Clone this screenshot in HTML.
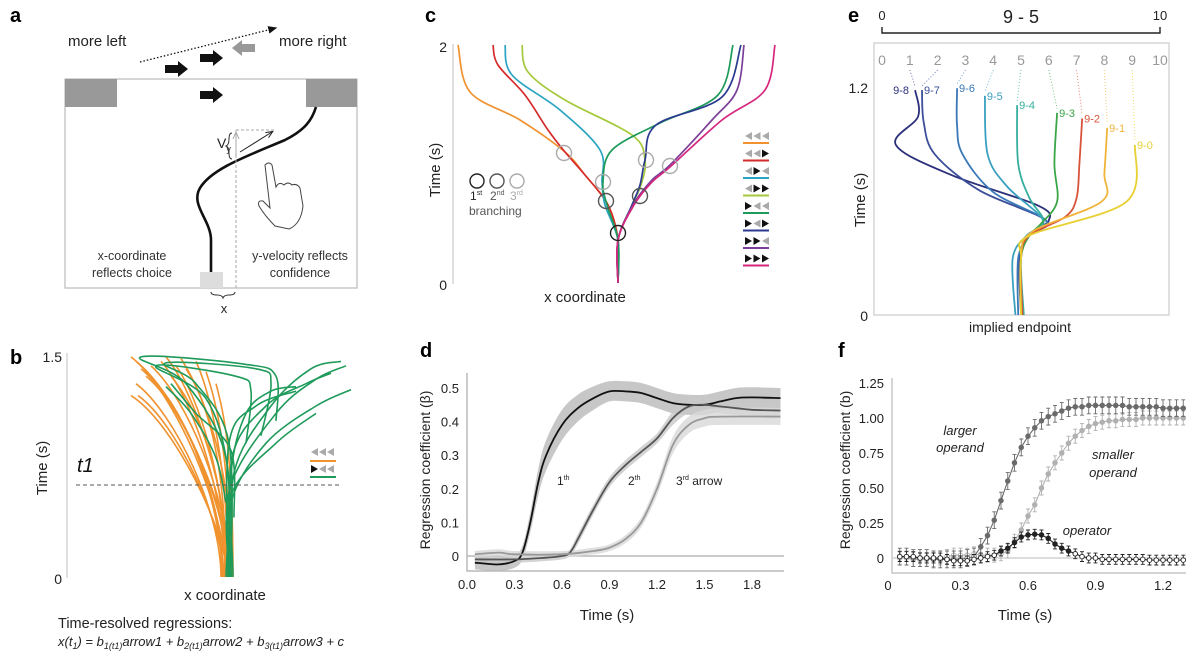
<!DOCTYPE html>
<html><head><meta charset="utf-8"><style>
html,body{margin:0;padding:0;background:#fff}
svg{display:block;font-family:"Liberation Sans","DejaVu Sans",sans-serif}
</style></head><body>
<svg id="fig" width="1200" height="657" viewBox="0 0 1200 657" xmlns="http://www.w3.org/2000/svg">
<defs>
<marker id="ah" markerWidth="8" markerHeight="8" refX="6" refY="4" orient="auto"><path d="M0,1 L7,4 L0,7 z" fill="#111"/></marker>
<marker id="ah2" markerWidth="8" markerHeight="8" refX="6" refY="4" orient="auto"><path d="M0,1 L7,4 L0,7" fill="none" stroke="#222" stroke-width="1"/></marker>
<marker id="ah3" markerWidth="8" markerHeight="8" refX="6" refY="4" orient="auto"><path d="M0,1 L7,4 L0,7" fill="none" stroke="#aaa" stroke-width="1"/></marker>
</defs>

<!-- PANEL A -->
<g>
<text x="10" y="22" font-size="20" font-weight="bold">a</text>
<text x="68" y="46" font-size="15" fill="#222">more left</text>
<text x="279" y="46" font-size="15" fill="#222">more right</text>
<line x1="140" y1="62" x2="276" y2="28" stroke="#111" stroke-width="1.3" stroke-dasharray="1.5,2" marker-end="url(#ah)"/>
<path d="M165,65 h13 v-4 l10,8 l-10,8 v-4 h-13z" fill="#111"/>
<path d="M200,54 h13 v-4 l10,8 l-10,8 v-4 h-13z" fill="#111"/>
<path d="M255,44 h-13 v-4 l-10,8 l10,8 v-4 h13z" fill="#999"/>
<rect x="65" y="79" width="292" height="209" fill="none" stroke="#bbb" stroke-width="1.2"/>
<rect x="65" y="79" width="52" height="28" fill="#999"/>
<rect x="306" y="79" width="51" height="28" fill="#999"/>
<path d="M200,91 h13 v-4 l10,8 l-10,8 v-4 h-13z" fill="#111"/>
<rect x="200" y="272" width="23" height="16" fill="#ddd"/>
<path d="M211,272 L211,240 C211,220 190,205 200,188 C212,168 250,155 285,140 C305,130 312,120 316,107" fill="none" stroke="#111" stroke-width="2.6"/>
<line x1="236" y1="288" x2="236" y2="130" stroke="#aaa" stroke-dasharray="3,2"/>
<line x1="236" y1="130" x2="276" y2="130" stroke="#aaa" stroke-dasharray="3,2"/>
<line x1="236" y1="155" x2="236" y2="133" stroke="#aaa" marker-end="url(#ah3)"/>
<line x1="240" y1="152" x2="272" y2="132" stroke="#222" marker-end="url(#ah2)"/>
<text x="217" y="148" font-size="14" fill="#222">V<tspan font-size="9" dy="4">y</tspan></text>
<path d="M232,133 q-3,0 -3,6 q0,6 -3,7 q3,1 3,7 q0,6 3,6" fill="none" stroke="#333"/>
<path d="M265,165 q4,-4 7,0 l4,22 q3,-6 8,-2 q4,-4 8,0 q5,-2 8,3 l3,18 q-2,18 -14,23 l-14,-3 q-10,-10 -16,-20 q-2,-6 4,-5 l7,7 z" fill="none" stroke="#444" stroke-width="1"/>
<text x="132" y="260" font-size="12.5" fill="#333" text-anchor="middle">x-coordinate</text>
<text x="132" y="277" font-size="12.5" fill="#333" text-anchor="middle">reflects choice</text>
<text x="300" y="260" font-size="12.5" fill="#333" text-anchor="middle">y-velocity reflects</text>
<text x="300" y="277" font-size="12.5" fill="#333" text-anchor="middle">confidence</text>
<path d="M211,292 q0,3 6,3 q5,0 6,3 q1,-3 6,-3 q6,0 6,-3" fill="none" stroke="#333"/>
<text x="224" y="313" font-size="13" text-anchor="middle" fill="#222">x</text>
</g>

<!-- PANEL B -->
<g id="pb">
<text x="10" y="364" font-size="20" font-weight="bold">b</text>
<line x1="67" y1="353" x2="67" y2="578" stroke="#ccc" stroke-width="1.2"/>
<text x="62" y="362" font-size="14" text-anchor="end" fill="#222">1.5</text>
<text x="62" y="584" font-size="14" text-anchor="end" fill="#222">0</text>
<text transform="translate(47,468) rotate(-90)" font-size="15" text-anchor="middle" fill="#222">Time (s)</text>
<text x="77" y="472" font-size="20" font-style="italic" fill="#111">t1</text>
<text x="225" y="600" font-size="15" text-anchor="middle" fill="#222">x coordinate</text>
<text x="58" y="628" font-size="14.5" fill="#222">Time-resolved regressions:</text>
<text x="58" y="646" font-size="13" font-style="italic" fill="#222">x(t<tspan font-size="9" dy="3">1</tspan><tspan dy="-3">) = b</tspan><tspan font-size="9" dy="3">1(t1)</tspan><tspan dy="-3">arrow1 + b</tspan><tspan font-size="9" dy="3">2(t1)</tspan><tspan dy="-3">arrow2 + b</tspan><tspan font-size="9" dy="3">3(t1)</tspan><tspan dy="-3">arrow3 + c</tspan></text>
<g id="bLines"></g>
<line x1="76" y1="485" x2="340" y2="485" stroke="#555" stroke-dasharray="4,3"/>
<g>
<path d="M318,456 l-7,-4 l7,-4z M326,456 l-7,-4 l7,-4z M334,456 l-7,-4 l7,-4z" fill="#aaa"/>
<line x1="310" y1="461" x2="336" y2="461" stroke="#f0922e" stroke-width="2"/>
<path d="M311,465 l7,4 l-7,4z" fill="#111"/><path d="M326,473 l-7,-4 l7,-4z M334,473 l-7,-4 l7,-4z" fill="#aaa"/>
<line x1="310" y1="477" x2="336" y2="477" stroke="#1e9a5a" stroke-width="2"/>
</g>
</g>

<!-- PANEL C -->
<g>
<text x="425" y="22" font-size="20" font-weight="bold">c</text>
<line x1="453" y1="44" x2="453" y2="284" stroke="#ccc" stroke-width="1.2"/>
<text x="447" y="52" font-size="14" text-anchor="end" fill="#222">2</text>
<text x="447" y="290" font-size="14" text-anchor="end" fill="#222">0</text>
<text transform="translate(440,170) rotate(-90)" font-size="15" text-anchor="middle" fill="#222">Time (s)</text>
<text x="585" y="302" font-size="15" text-anchor="middle" fill="#222">x coordinate</text>
<g id="cLines"></g>
<g fill="none" stroke-width="1.4">
<circle cx="618" cy="233" r="7.5" stroke="#222"/>
<circle cx="606" cy="201" r="7.5" stroke="#555"/><circle cx="640" cy="196" r="7.5" stroke="#555"/>
<circle cx="564" cy="153" r="7.5" stroke="#aaa"/><circle cx="603" cy="182" r="7.5" stroke="#aaa"/><circle cx="646" cy="160" r="7.5" stroke="#aaa"/><circle cx="670" cy="166" r="7.5" stroke="#aaa"/>
</g>
<g>
<circle cx="477" cy="181" r="7" fill="none" stroke="#222" stroke-width="1.4"/>
<circle cx="497" cy="181" r="7" fill="none" stroke="#555" stroke-width="1.4"/>
<circle cx="517" cy="181" r="7" fill="none" stroke="#aaa" stroke-width="1.4"/>
<text x="470" y="200" font-size="12" fill="#222">1<tspan font-size="7" dy="-5">st</tspan></text>
<text x="490" y="200" font-size="12" fill="#555">2<tspan font-size="7" dy="-5">nd</tspan></text>
<text x="510" y="200" font-size="12" fill="#aaa">3<tspan font-size="7" dy="-5">rd</tspan></text>
<text x="469" y="215" font-size="12" fill="#555">branching</text>
</g>
<g id="cLegend"></g>
</g>

<!-- PANEL E -->
<g>
<text x="848" y="22" font-size="20" font-weight="bold">e</text>
<text x="882" y="20" font-size="13" text-anchor="middle" fill="#222">0</text>
<text x="1160" y="20" font-size="13" text-anchor="middle" fill="#222">10</text>
<text x="1021" y="23" font-size="18" text-anchor="middle" fill="#222">9 - 5</text>
<path d="M882,27 V33 H1160 V27" fill="none" stroke="#222" stroke-width="1.4"/>
<rect x="874" y="43" width="295" height="272" fill="none" stroke="#ccc" stroke-width="1.2"/>
<g id="eTicks"></g>
<text x="868" y="93" font-size="14" text-anchor="end" fill="#222">1.2</text>
<text x="868" y="321" font-size="14" text-anchor="end" fill="#222">0</text>
<text transform="translate(865,200) rotate(-90)" font-size="15" text-anchor="middle" fill="#222">Time (s)</text>
<text x="1020" y="332" font-size="14" text-anchor="middle" fill="#222">implied endpoint</text>
<g id="eLines"></g>
</g>

<!-- PANEL D -->
<g>
<text x="420" y="357" font-size="20" font-weight="bold">d</text>
<g id="dChart"></g>
<text transform="translate(430,470) rotate(-90)" font-size="14" text-anchor="middle" fill="#222">Regression coefficient (β)</text>
<text x="607" y="620" font-size="15" text-anchor="middle" fill="#222">Time (s)</text>
<text x="557" y="485" font-size="12" fill="#222">1<tspan font-size="7" dy="-5">th</tspan></text>
<text x="628" y="485" font-size="12" fill="#222">2<tspan font-size="7" dy="-5">th</tspan></text>
<text x="676" y="485" font-size="12" fill="#222">3<tspan font-size="7" dy="-5">rd</tspan><tspan dy="5"> arrow</tspan></text>
</g>

<!-- PANEL F -->
<g>
<text x="838" y="357" font-size="20" font-weight="bold">f</text>
<g id="fChart"></g>
<text transform="translate(850,470) rotate(-90)" font-size="14" text-anchor="middle" fill="#222">Regression coefficient (b)</text>
<text x="1025" y="620" font-size="15" text-anchor="middle" fill="#222">Time (s)</text>
<text x="960" y="435" font-size="13" font-style="italic" fill="#222" text-anchor="middle">larger</text>
<text x="960" y="452" font-size="13" font-style="italic" fill="#222" text-anchor="middle">operand</text>
<text x="1113" y="459" font-size="13" font-style="italic" fill="#222" text-anchor="middle">smaller</text>
<text x="1113" y="477" font-size="13" font-style="italic" fill="#222" text-anchor="middle">operand</text>
<text x="1087" y="535" font-size="13" font-style="italic" fill="#222" text-anchor="middle">operator</text>
</g>
</svg>

<script>
// ---------- Panel d data ----------
const dTimes1 = [0.05,0.1,0.2,0.3,0.35,0.4,0.45,0.5,0.6,0.7,0.8,0.9,1.0,1.1,1.2,1.3,1.4,1.5,1.6,1.7,1.8,1.98];
const dFirst  = [-0.02,-0.022,-0.025,-0.015,0.01,0.1,0.22,0.3,0.39,0.44,0.47,0.49,0.49,0.485,0.47,0.455,0.45,0.45,0.46,0.47,0.472,0.47];
const dFirstBand = [0.02,0.02,0.02,0.02,0.02,0.03,0.04,0.045,0.045,0.04,0.035,0.03,0.03,0.03,0.03,0.03,0.03,0.03,0.03,0.03,0.03,0.03];
const dTimes2 = [0.05,0.3,0.5,0.6,0.65,0.7,0.8,0.9,1.0,1.1,1.2,1.3,1.4,1.5,1.6,1.7,1.8,1.98];
const dSecond = [-0.01,-0.01,-0.005,0,0.01,0.05,0.14,0.22,0.27,0.31,0.35,0.41,0.445,0.45,0.445,0.44,0.435,0.433];
const dSecondBand = [0.01,0.01,0.01,0.01,0.01,0.015,0.015,0.015,0.015,0.015,0.015,0.02,0.02,0.02,0.02,0.02,0.02,0.02];
const dTimes3 = [0.05,0.2,0.3,0.6,0.8,0.9,1.0,1.1,1.2,1.3,1.4,1.5,1.6,1.98];
const dThird  = [0.005,0.01,0.005,0.005,0.015,0.025,0.05,0.1,0.2,0.33,0.39,0.41,0.415,0.415];
const dThirdBand = [0.01,0.01,0.01,0.01,0.01,0.01,0.012,0.015,0.02,0.025,0.025,0.025,0.025,0.025];
const dXTicks = ["0.0","0.3","0.6","0.9","1.2","1.5","1.8"];
const dYTicks = ["0","0.1","0.2","0.3","0.4","0.5"];

// ---------- Panel f data ----------
const fTimes = [0.03,0.06,0.09,0.12,0.15,0.18,0.21,0.24,0.27,0.30,0.33,0.36,0.39,0.42,0.45,0.48,0.51,0.54,0.57,0.60,0.63,0.66,0.69,0.72,0.75,0.78,0.81,0.84,0.87,0.90,0.93,0.96,0.99,1.02,1.05,1.08,1.11,1.14,1.17,1.20,1.23,1.26,1.29];
const fLarger = [0.01,0.01,0,0,0,-0.01,-0.01,-0.01,-0.01,-0.01,0,0.01,0.08,0.16,0.27,0.41,0.55,0.68,0.79,0.87,0.93,0.98,1.01,1.03,1.05,1.07,1.08,1.08,1.09,1.09,1.09,1.09,1.09,1.09,1.08,1.08,1.08,1.08,1.08,1.07,1.07,1.07,1.07];
const fSmaller = [0,0,-0.01,-0.01,-0.01,-0.01,0,0.01,0.02,0.02,0.02,0.03,0.02,0.02,0.02,0.03,0.05,0.12,0.2,0.3,0.38,0.5,0.6,0.68,0.75,0.82,0.87,0.91,0.94,0.96,0.97,0.98,0.98,0.99,0.99,0.99,1,1,1,1,1,1,1];
const fOperator = [0.01,0.01,0.01,0,0,0,0,-0.01,-0.02,-0.02,-0.02,-0.01,0,0.01,0.02,0.05,0.07,0.11,0.15,0.165,0.17,0.165,0.14,0.1,0.07,0.05,0.03,0.01,0,0,-0.01,-0.01,-0.01,-0.01,-0.01,-0.01,-0.01,-0.015,-0.015,-0.015,-0.015,-0.015,-0.015];
const fErr = [0.06,0.05,0.035];
const fXTicks = ["0","0.3","0.6","0.9","1.2"];
const fYTicks = ["0","0.25","0.50","0.75","1.00","1.25"];

// ---------- Panel b data (x in arbitrary units, t in s) ----------
const bOrange = [[0,0.45,-0.95,1.48],[0.02,0.5,-0.9,1.45],[-0.03,0.6,-0.85,1.4],[0.05,0.4,-0.8,1.35],[0.01,0.3,-0.95,1.22],[-0.02,0.35,-0.88,1.22],[0.03,0.55,-0.6,1.48],[0,0.65,-0.5,1.42],[0.06,0.7,-0.4,1.4],[-0.04,0.5,-0.7,1.3],[0.02,0.75,-0.3,1.45],[0.04,0.8,-0.2,1.38],[-0.01,0.6,-0.65,1.45],[0.01,0.7,-0.55,1.35],[0.03,0.55,-0.75,1.42],[-0.05,0.45,-0.9,1.3],[0.07,0.85,-0.1,1.3],[0,0.9,-0.45,1.47]];
const bGreen = [
 [[0.05,0],[0.05,0.5],[0.4,0.9],[0.9,1.15],[1.25,1.26]],
 [[0.03,0],[0.04,0.6],[0.5,1.1],[0.9,1.33],[1.2,1.42]],
 [[0.07,0],[0.08,0.7],[0.45,1.15],[0.85,1.4],[1.15,1.45]],
 [[0.05,0],[0.06,0.8],[0.4,1.15],[0.8,1.3],[1.05,1.37]],
 [[0.02,0],[0.03,0.9],[0.3,1.15],[0.7,1.25]],
 [[0.04,0],[0.05,0.55],[0.5,0.9],[0.9,1.1]],
 [[0.02,0],[0.0,0.8],[-0.4,1.3],[-0.85,1.48],[0.2,1.43],[0.5,1.35],[0.5,1.05]],
 [[0.05,0],[0.03,0.9],[-0.3,1.3],[-0.6,1.44],[0.3,1.4],[0.45,1.3],[0.35,0.95]],
 [[0.0,0],[0.02,0.7],[-0.2,1.2],[-0.7,1.42],[0.1,1.35],[0.25,1.25],[0.2,0.9]],
 [[0.03,0],[0.05,0.7],[0.2,1.1],[0.45,1.25],[0.7,1.28]],
 [[-0.6,1.28],[-0.35,1.1],[-0.1,0.8],[0.0,0.5]],
 [[-0.55,1.3],[-0.3,1.1],[0.05,0.85],[0.08,0.4]]
];

// ---------- Panel e data (endpoint units 0-10, t in s) ----------
const eLabels = ["9-8","9-7","9-6","9-5","9-4","9-3","9-2","9-1","9-0"];
const eTargets = [1,2,3,4,5,6,7,8,9];
const eColors = ["#2b2f7a","#3b4f9a","#3978b8","#3aa0c0","#36ae9e","#3aa648","#d9533a","#f0b43a","#e8d030"];
const ePaths = [
 [[5,0],[4.95,0.3],[5.3,0.42],[6.0,0.5],[5.6,0.58],[2.5,0.74],[0.5,0.9],[1.3,1.05],[1.19,1.19]],
 [[5.05,0],[4.95,0.3],[5.3,0.42],[5.9,0.5],[3.5,0.66],[1.9,0.85],[1.5,1.02],[1.44,1.19]],
 [[4.9,0],[4.9,0.3],[5.3,0.42],[5.9,0.5],[4.0,0.65],[2.9,0.85],[2.7,1.0],[2.7,1.2]],
 [[4.8,0],[4.7,0.3],[5.2,0.42],[5.8,0.5],[4.5,0.68],[3.8,0.85],[3.7,1.16]],
 [[5.1,0],[5.0,0.3],[5.3,0.42],[5.8,0.5],[5.3,0.62],[4.9,0.8],[4.86,1.11]],
 [[5,0],[5.0,0.3],[5.3,0.42],[5.7,0.48],[6.3,0.6],[6.2,0.8],[6.3,1.07]],
 [[5.05,0],[5.0,0.3],[5.3,0.42],[6.6,0.52],[7.0,0.62],[7.1,0.8],[7.2,1.04]],
 [[5.0,0],[5.0,0.3],[5.4,0.44],[7.9,0.6],[8.0,0.75],[8.1,0.99]],
 [[5.0,0],[5.0,0.3],[5.3,0.42],[8.8,0.6],[9.1,0.9]]
];

const NS="http://www.w3.org/2000/svg";
function mk(tag,attrs,parent){const e=document.createElementNS(NS,tag);for(const k in attrs)e.setAttribute(k,attrs[k]);parent.appendChild(e);return e;}
function smooth(pts){
  if(pts.length<2)return "";
  let d="M"+pts[0][0].toFixed(1)+","+pts[0][1].toFixed(1);
  for(let i=0;i<pts.length-1;i++){
    const p0=pts[i-1]||pts[i],p1=pts[i],p2=pts[i+1],p3=pts[i+2]||p2;
    const c1=[p1[0]+(p2[0]-p0[0])/6,p1[1]+(p2[1]-p0[1])/6];
    const c2=[p2[0]-(p3[0]-p1[0])/6,p2[1]-(p3[1]-p1[1])/6];
    d+=" C"+c1[0].toFixed(1)+","+c1[1].toFixed(1)+" "+c2[0].toFixed(1)+","+c2[1].toFixed(1)+" "+p2[0].toFixed(1)+","+p2[1].toFixed(1);
  }
  return d;
}

// ----- Panel b -----
(function(){
  const g=document.getElementById('bLines');
  const bx=v=>226+v*100, by=t=>577-t*148.7;
  bOrange.forEach(function(o){
    const [x0,tb,xe,te]=o;
    const d="M"+bx(x0)+","+by(0)+" C"+bx(x0)+","+by(tb)+" "+bx(x0+(xe-x0)*0.55)+","+by(te*0.85)+" "+bx(xe)+","+by(te);
    const p=mk('path',{d:d,fill:'none',stroke:'#f0922e','stroke-width':1.6},g);
    
    
  });
  bGreen.forEach(function(pts){
    const p=mk('path',{d:smooth(pts.map(q=>[bx(q[0]),by(q[1])])),fill:'none',stroke:'#1e9a5a','stroke-width':1.6},g);
    
    
  });
})();

// ----- Panel c -----
const cColors=["#f0922e","#d62a2a","#2aa4c0","#a5c93a","#1e9a5a","#2a3b8f","#7b3f98","#d6277f"];
const cPaths=[
 [[618,283],[618,240],[608,205],[585,175],[565,152],[520,120],[470,92],[458,45]],
 [[618,283],[618,240],[608,205],[585,175],[565,152],[548,130],[525,95],[498,65],[493,45]],
 [[618,283],[618,240],[605,205],[602,182],[600,150],[560,110],[512,75],[505,45]],
 [[618,283],[618,240],[632,205],[641,185],[645,160],[632,135],[565,100],[528,72],[522,45]],
 [[618,283],[618,240],[607,205],[603,182],[612,150],[660,123],[718,95],[733,45]],
 [[618,283],[618,240],[632,205],[640,185],[645,160],[656,125],[722,97],[741,45]],
 [[618,283],[618,240],[633,205],[652,180],[670,165],[712,120],[737,90],[744,45]],
 [[618,283],[618,240],[634,205],[652,182],[670,167],[722,120],[765,90],[775,45]]
];
const cLegendArrows=["LLL","LLR","LRL","LRR","RLL","RLR","RRL","RRR"];
(function(){
  const g=document.getElementById('cLines');
  cPaths.forEach(function(pts,i){
    const p=mk('path',{d:smooth(pts),fill:'none',stroke:cColors[i],'stroke-width':1.7},g);
    
    
  });
  const lg=document.getElementById('cLegend');
  cLegendArrows.forEach(function(s,i){
    const y=136+i*17.5;
    for(let j=0;j<3;j++){
      const x=745+j*8.5, c=(s[j]==='R'?'#111':'#aaa');
      const d=s[j]==='R'?`M${x},${y-4} L${x+7},${y} L${x},${y+4}z`:`M${x+7},${y-4} L${x},${y} L${x+7},${y+4}z`;
      const a=mk('path',{d:d,fill:c},lg);
      
      
    }
    const l=mk('line',{x1:743,x2:769,y1:y+7,y2:y+7,stroke:cColors[i],'stroke-width':2},lg);
    
    
  });
})();

// ----- Panel e -----
(function(){
  const ex=v=>882+v*27.8, ey=t=>315-t*189;
  const tg=document.getElementById('eTicks');
  for(let i=0;i<=10;i++){
    const t=mk('text',{x:ex(i),y:65,'font-size':14,'text-anchor':'middle',fill:'#999'},tg);
    t.textContent=String(i);
    
    
  }
  const g=document.getElementById('eLines');
  ePaths.forEach(function(pts,i){
    const top=pts[pts.length-1];
    const tgt=eTargets[i];
    const dl=mk('line',{x1:ex(tgt),y1:70,x2:ex(top[0]),y2:ey(top[1])-4,stroke:eColors[i],'stroke-width':1,'stroke-dasharray':'1,2',opacity:0.7},g);
    
    
    const p=mk('path',{d:smooth(pts.map(q=>[ex(q[0]),ey(q[1])])),fill:'none',stroke:eColors[i],'stroke-width':1.8},g);
    
    
    const lx=i===0?ex(top[0])-22:ex(top[0])+2;
    const t=mk('text',{x:lx,y:ey(top[1])+4,'font-size':11,fill:eColors[i]},g);
    t.textContent=eLabels[i];
    
    
  });
})();

// ----- Panel d -----
(function(){
  const g=document.getElementById('dChart');
  const X0=467, XS=47.5/0.3, Y0=556, YS=336;
  const sx=t=>X0+t*XS, sy=v=>Y0-v*YS;
  const ax=mk('path',{d:`M${X0},373 V571 H784`,fill:'none',stroke:'#aaa','stroke-width':1.2},g);
  
  
  const z=mk('line',{x1:X0,x2:784,y1:sy(0),y2:sy(0),stroke:'#aaa','stroke-width':1.2},g);
  
  
  dXTicks.forEach(function(s){
    const v=parseFloat(s);
    const t=mk('text',{x:sx(v),y:589,'font-size':13,'text-anchor':'middle',fill:'#222'},g);
    t.textContent=s;
    
    
  });
  dYTicks.forEach(function(s){
    const v=parseFloat(s);
    const t=mk('text',{x:459,y:sy(v)+5,'font-size':13,'text-anchor':'end',fill:'#222'},g);
    t.textContent=s;
    
    
  });
  const series=[[dTimes1,dFirst,dFirstBand,'#111','#bdbdbd',0.85],[dTimes2,dSecond,dSecondBand,'#555','#c8c8c8',0.8],[dTimes3,dThird,dThirdBand,'#999','#d8d8d8',0.8]];
  series.forEach(function(s,k){
    const [ts,vs,bs,lc,bc,op]=s;
    const up=ts.map((t,i)=>[sx(t),sy(vs[i]+bs[i])]);
    const dn=ts.map((t,i)=>[sx(t),sy(vs[i]-bs[i])]).reverse();
    const band=mk('path',{d:smooth(up)+" L"+dn[0][0]+","+dn[0][1]+smooth(dn).replace(/^M[^C]*/,' ')+"Z",fill:bc,opacity:op},g);
    
    
  });
  series.forEach(function(s,k){
    const [ts,vs,bs,lc]=s;
    const p=mk('path',{d:smooth(ts.map((t,i)=>[sx(t),sy(vs[i])])),fill:'none',stroke:lc,'stroke-width':1.8},g);
    
    
  });
})();

// ----- Panel f -----
(function(){
  const g=document.getElementById('fChart');
  const X0=893, XS=225, Y0=558, YS=140;
  const sx=t=>X0+t*XS, sy=v=>Y0-v*YS;
  const ax=mk('path',{d:`M${X0-1},378 V573 H1186`,fill:'none',stroke:'#bbb','stroke-width':1.2},g);
  
  
  const z=mk('line',{x1:X0,x2:1186,y1:sy(0),y2:sy(0),stroke:'#bbb','stroke-width':1},g);
  
  
  fXTicks.forEach(function(s){
    const v=parseFloat(s);
    const t=mk('text',{x:sx(v)-(v===0?5:0),y:590,'font-size':13,'text-anchor':'middle',fill:'#222'},g);
    t.textContent=s;
    
    
  });
  fYTicks.forEach(function(s){
    const v=parseFloat(s);
    const t=mk('text',{x:884,y:sy(v)+5,'font-size':13,'text-anchor':'end',fill:'#222'},g);
    t.textContent=s;
    
    
  });
  const ser=[[fSmaller,'#b0b0b0',fErr[1],'smaller'],[fLarger,'#6a6a6a',fErr[0],'larger'],[fOperator,'#222',fErr[2],'operator']];
  ser.forEach(function(s){
    const [vs,c,e,name]=s;
    const l=mk('polyline',{points:fTimes.map((t,i)=>sx(t)+","+sy(vs[i])).join(' '),fill:'none',stroke:c,'stroke-width':1.1},g);
    
    
    fTimes.forEach(function(t,i){
      const x=sx(t), y=sy(vs[i]), h=e*YS;
      const eb=mk('path',{d:`M${x},${y-h} V${y+h} M${x-2},${y-h} h4 M${x-2},${y+h} h4`,stroke:c,'stroke-width':0.9,fill:'none'},g);
      
      
      const open=Math.abs(vs[i])<0.04;
      const m=mk('circle',{cx:x,cy:y,r:2.3,fill:open?'#fff':c,stroke:c,'stroke-width':0.9},g);
      
      
    });
  });
})();
</script>
</body></html>
